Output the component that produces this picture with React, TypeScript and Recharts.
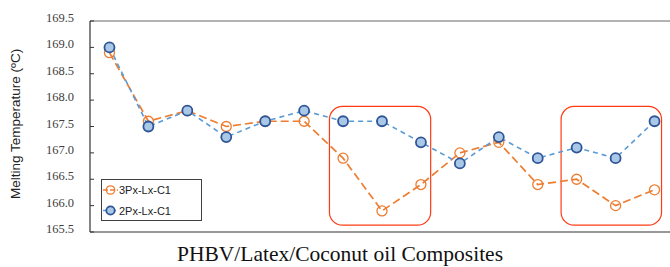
import { LineChart, Line, XAxis, YAxis, ReferenceLine, ReferenceArea } from "recharts";

// sample number along the composite series (no printed labels)
const sampleNo = [1, 2, 3, 4, 5, 6, 7, 8, 9, 10, 11, 12, 13, 14, 15];
const tm3Px = [168.9, 167.6, 167.8, 167.5, 167.6, 167.6, 166.9, 165.9, 166.4, 167.0, 167.2, 166.4, 166.5, 166.0, 166.3];
const tm2Px = [169.0, 167.5, 167.8, 167.3, 167.6, 167.8, 167.6, 167.6, 167.2, 166.8, 167.3, 166.9, 167.1, 166.9, 167.6];
const yTicks = [165.5, 166.0, 166.5, 167.0, 167.5, 168.0, 168.5, 169.0, 169.5];
const xTicks = [1.5, 2.5, 3.5, 4.5, 5.5, 6.5, 7.5, 8.5, 9.5, 10.5, 11.5, 12.5, 13.5, 14.5, 15.5];
// highlighted groups (sample range, temperature range)
const highlights = [
  { x1: 6.65, x2: 9.25, y1: 165.63, y2: 167.88 },
  { x1: 12.6, x2: 15.18, y1: 165.63, y2: 167.88 },
];

const data = sampleNo.map((n, i) => ({ n, a: tm3Px[i], b: tm2Px[i] }));

const ORANGE = "#ED7D31";
const BLUE_LINE = "#5B9BD5";
const BLUE_EDGE = "#2F5597";
const BLUE_FILL = "#A9C8E8";

function RoundBox(props: any) {
  const { x, y, width, height } = props;
  return <rect x={x} y={y} width={width} height={height} rx={13} ry={13} fill="none" stroke="#FF3B14" strokeWidth={1.2} />;
}

function YTick(props: any) {
  const { x, y, payload } = props;
  return (
    <text
      x={x}
      y={y}
      dy={1}
      textAnchor="end"
      fontFamily="'Liberation Serif', 'Times New Roman', serif"
      fontSize={12.5}
      fill="#404040"
    >
      {Number(payload.value).toFixed(1)}
    </text>
  );
}

function LegendBox() {
  const rows = [
    { name: "3Px-Lx-C1", line: ORANGE, dash: "5 2", fill: "none", edge: ORANGE },
    { name: "2Px-Lx-C1", line: BLUE_LINE, dash: "3 2", fill: BLUE_FILL, edge: BLUE_EDGE },
  ];
  return (
    <div
      style={{
        position: "absolute",
        left: 101,
        top: 179,
        width: 101,
        height: 42,
        border: "1px solid #404040",
        background: "#fff",
        boxSizing: "border-box",
      }}
    >
      <svg width={99} height={40} style={{ display: "block" }}>
        {rows.map((r, i) => (
          <g key={r.name}>
            <line x1={1} x2={16} y1={10 + i * 20.5} y2={10 + i * 20.5} stroke={r.line} strokeWidth={1.6} strokeDasharray={r.dash} />
            <circle cx={8.5} cy={10 + i * 20.5} r={4.2} fill={r.fill} stroke={r.edge} strokeWidth={i ? 1.8 : 1.3} />
            <text x={17} y={14 + i * 20.5} fontFamily="Liberation Sans, Arial, sans-serif" fontSize={11} fill="#222">
              {r.name}
            </text>
          </g>
        ))}
      </svg>
    </div>
  );
}

function YTitle() {
  return (
    <text
      x={16}
      y={124}
      transform="rotate(-90 16 124)"
      textAnchor="middle"
      dominantBaseline="middle"
      fontFamily="Liberation Sans, Arial, sans-serif"
      fontSize={13.5}
      fill="#222"
    >
      Melting Temperature  (ºC)
    </text>
  );
}

function XTitle() {
  return (
    <text x={340} y={261} textAnchor="middle" fontFamily="'Liberation Serif', 'Times New Roman', serif" fontSize={21.5} fill="#111">
      PHBV/Latex/Coconut oil Composites
    </text>
  );
}

export default function App() {
  return (
    <div style={{ position: "absolute", left: 0, top: 0, width: 670, height: 267, overflow: "hidden", background: "#fff" }}>
      <LineChart width={680} height={267} data={data} margin={{ top: 21, right: 6, bottom: 0, left: 0 }}>
        <XAxis
          dataKey="n"
          type="number"
          domain={[0.5, 15.5]}
          ticks={xTicks}
          tick={false}
          tickSize={-5}
          height={35}
          axisLine={{ stroke: "#333", strokeWidth: 1.2 }}
          tickLine={{ stroke: "#333" }}
          label={<XTitle />}
        />
        <YAxis
          type="number"
          domain={[165.5, 169.5]}
          ticks={yTicks}
          width={90}
          tickSize={-4}
          tickMargin={20}
          tick={<YTick />}
          axisLine={{ stroke: "#333", strokeWidth: 1.2 }}
          tickLine={{ stroke: "#333" }}
          label={<YTitle />}
        />
        <ReferenceLine y={169.5} stroke="#666" strokeWidth={1} />
        {highlights.map((h, i) => (
          <ReferenceArea key={i} x1={h.x1} x2={h.x2} y1={h.y1} y2={h.y2} shape={<RoundBox />} />
        ))}
        <Line
          dataKey="a"
          name="3Px-Lx-C1"
          stroke={ORANGE}
          strokeWidth={1.7}
          strokeDasharray="8 4"
          dot={{ r: 5, fill: "none", stroke: ORANGE, strokeWidth: 1.3, strokeDasharray: "none" }}
          isAnimationActive={false}
        />
        <Line
          dataKey="b"
          name="2Px-Lx-C1"
          stroke={BLUE_LINE}
          strokeWidth={1.6}
          strokeDasharray="5 4"
          dot={{ r: 5, fill: BLUE_FILL, stroke: BLUE_EDGE, strokeWidth: 1.8, strokeDasharray: "none" }}
          isAnimationActive={false}
        />
      </LineChart>
      <LegendBox />
    </div>
  );
}
